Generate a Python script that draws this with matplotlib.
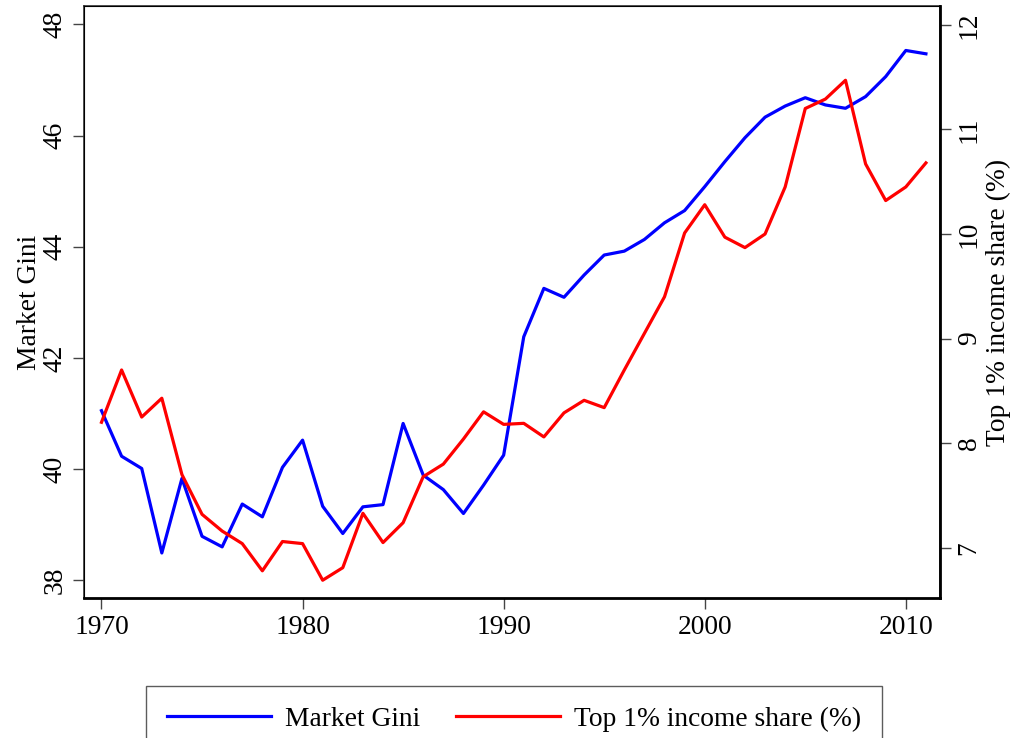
import matplotlib.pyplot as plt
import numpy as np

years = np.arange(1970, 2012)

market_gini = [41.05, 40.23, 40.01, 38.49, 39.83, 38.79, 38.6, 39.37, 39.14, 40.03,
               40.52, 39.33, 38.84, 39.32, 39.36, 40.82, 39.89, 39.63, 39.2, 39.71,
               40.25, 42.38, 43.25, 43.09, 43.49, 43.85, 43.92, 44.13, 44.43, 44.65,
               45.08, 45.53, 45.96, 46.33, 46.53, 46.68, 46.55, 46.49, 46.7, 47.06,
               47.53, 47.47]

top1_share = [8.2, 8.7, 8.25, 8.43, 7.7, 7.32, 7.16, 7.04, 6.78, 7.06,
              7.04, 6.69, 6.81, 7.33, 7.05, 7.24, 7.68, 7.8, 8.04, 8.3,
              8.18, 8.19, 8.06, 8.29, 8.41, 8.34, 8.7, 9.05, 9.4, 10.01,
              10.28, 9.97, 9.87, 10.0, 10.45, 11.2, 11.29, 11.47, 10.67, 10.32,
              10.45, 10.68]

plt.rcParams['font.family'] = ['Liberation Serif', 'DejaVu Serif']
plt.rcParams['font.size'] = 19.8

fig = plt.figure(figsize=(10.13, 7.38), dpi=100)
ax = fig.add_axes([84 / 1013, 140 / 738, 856 / 1013, 592 / 738])
ax2 = ax.twinx()

l1, = ax.plot(years, market_gini, color='#0000ff', lw=2.3, label='Market Gini')
l2, = ax2.plot(years, top1_share, color='#ff0000', lw=2.3, label='Top 1% income share (%)')

ax.set_xlim(1969.13, 2011.7)
ax.set_ylim(37.68, 48.33)
ax2.set_ylim(6.52, 12.18)

ax.set_xticks([1970, 1980, 1990, 2000, 2010])
ax.set_yticks([38, 40, 42, 44, 46, 48])
ax2.set_yticks([7, 8, 9, 10, 11, 12])

for lab in ax.get_yticklabels():
    lab.set_rotation(90)
    lab.set_va('center')
for lab in ax2.get_yticklabels():
    lab.set_rotation(90)
    lab.set_va('center')

ax.tick_params(axis='both', direction='out', length=8, width=1, color='#444444', pad=4)
ax2.tick_params(axis='y', direction='out', length=8, width=1, color='#444444', pad=4)

ax.set_ylabel('Market Gini', labelpad=0)
ax2.set_ylabel('Top 1% income share (%)', labelpad=3)

for sp in ax.spines.values():
    sp.set_linewidth(1.2)
    sp.set_color('#333333')
ax2.spines['right'].set_linewidth(2)
ax2.spines['right'].set_color('black')
ax.spines['bottom'].set_linewidth(2)
ax.spines['bottom'].set_color('black')

leg = fig.legend(handles=[l1, l2], loc='center', bbox_to_anchor=(514 / 1013, 19 / 738),
                 ncol=2, frameon=True, fancybox=False, handlelength=3.8,
                 handletextpad=0.5, columnspacing=1.3, borderpad=0.75, borderaxespad=0.3)
leg.get_frame().set_edgecolor('#333333')
leg.get_frame().set_linewidth(1)

fig.savefig('out.png', dpi=100)
